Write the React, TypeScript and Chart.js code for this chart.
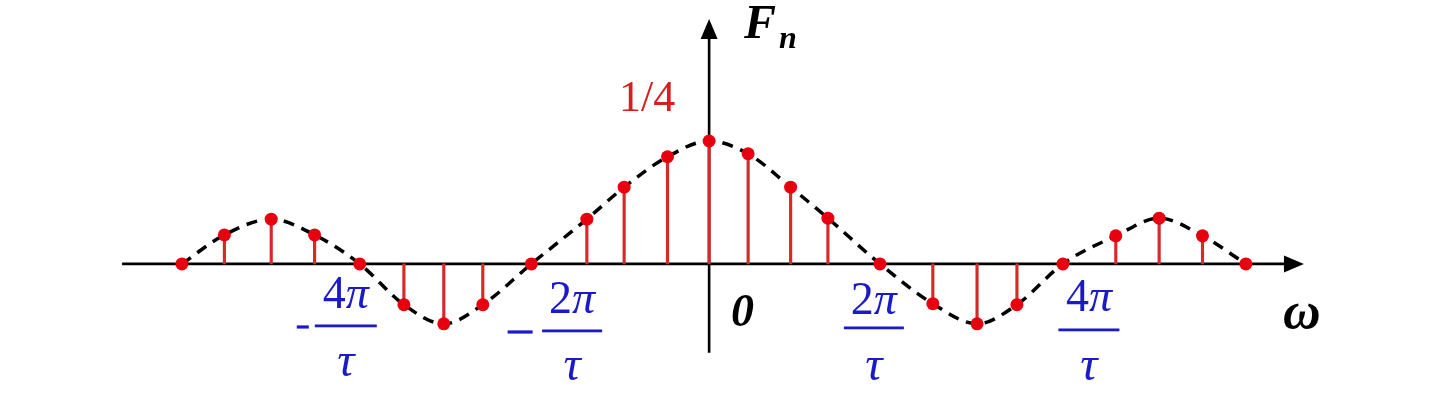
import React, { useEffect, useRef } from "react";
import { Chart, registerables } from "chart.js";

Chart.register(...registerables);

// ω in units of π/τ
const OMEGA = [
  -6.08, -5.59, -5.05, -4.55, -4.03, -3.52, -3.06, -2.61, -2.05, -1.41, -0.98, -0.48, 0,
  0.45, 0.94, 1.37, 1.97, 2.58, 3.09, 3.55, 4.08, 4.69, 5.19, 5.69, 6.19,
];
// F_n values (peak = 1/4)
const FN = [
  0, 0.059, 0.091, 0.059, 0, -0.083, -0.122, -0.083, 0, 0.091, 0.156, 0.218, 0.25,
  0.224, 0.156, 0.093, 0, -0.081, -0.122, -0.083, 0, 0.057, 0.093, 0.057, 0,
];
// tick fraction labels
const TICK_NUMS = ["4π", "2π", "2π", "4π"];
const TICK_NEG = [true, true, false, false];
const PEAK_LABEL = "1/4";

// label anchors (data units of ω) and offsets below the axis in px
const TICK_ANCHORS = [-4.19, -1.58, 1.9, 4.38];
const NUM_DY = [44, 49, 50, 47];
const BAR_DY = [62, 67, 64, 66];
const TAU_DY = [112, 116, 116, 116];
const BAR_W = [62, 60, 60, 61];
const MINUS_DX = [-43, -52];
const MINUS_W = [12, 25];

const X_AXIS = [-6.77, 6.86];
const Y_AXIS = [-0.181, 0.498];

const RED_DOT = "#e8000e";
const RED_STEM = "#d42a2a";
const BLUE = "#1a1ac8";
const SERIF = '"Liberation Serif", "DejaVu Serif", serif';

const drawPlugin = {
  id: "sketch",
  beforeDatasetsDraw(chart: any) {
    const { ctx, scales } = chart;
    const xs = scales.x;
    const ys = scales.y;
    const y0 = ys.getPixelForValue(0);
    const x0 = xs.getPixelForValue(0);
    ctx.save();
    ctx.strokeStyle = "#000";
    ctx.fillStyle = "#000";
    ctx.lineWidth = 2.6;
    // x axis
    const xl = xs.getPixelForValue(X_AXIS[0]);
    const xr = xs.getPixelForValue(X_AXIS[1]);
    ctx.beginPath();
    ctx.moveTo(xl, y0);
    ctx.lineTo(xr - 16, y0);
    ctx.stroke();
    ctx.beginPath();
    ctx.moveTo(xr, y0);
    ctx.lineTo(xr - 20, y0 - 8.5);
    ctx.lineTo(xr - 20, y0 + 8.5);
    ctx.closePath();
    ctx.fill();
    // y axis
    const yb = ys.getPixelForValue(Y_AXIS[0]);
    const yt = ys.getPixelForValue(Y_AXIS[1]);
    ctx.beginPath();
    ctx.moveTo(x0, yb);
    ctx.lineTo(x0, yt + 16);
    ctx.stroke();
    ctx.beginPath();
    ctx.moveTo(x0, yt);
    ctx.lineTo(x0 - 8.5, yt + 20);
    ctx.lineTo(x0 + 8.5, yt + 20);
    ctx.closePath();
    ctx.fill();
    ctx.restore();
  },
  afterDatasetsDraw(chart: any) {
    const { ctx, scales } = chart;
    const xs = scales.x;
    const ys = scales.y;
    const y0 = ys.getPixelForValue(0);
    const x0 = xs.getPixelForValue(0);
    ctx.save();
    ctx.textBaseline = "alphabetic";
    // F_n
    ctx.fillStyle = "#000";
    ctx.textAlign = "left";
    ctx.font = `italic bold 48px ${SERIF}`;
    ctx.fillText("F", x0 + 35, 38);
    ctx.font = `italic bold 32px ${SERIF}`;
    ctx.fillText("n", x0 + 70, 48);
    // 0
    ctx.font = `italic bold 46px ${SERIF}`;
    ctx.fillText("0", x0 + 22, y0 + 62);
    // ω
    ctx.font = `italic bold 52px ${SERIF}`;
    ctx.fillText("ω", 1283, y0 + 64);
    // 1/4
    ctx.fillStyle = "#d42020";
    ctx.textAlign = "center";
    ctx.font = `44px ${SERIF}`;
    ctx.fillText(PEAK_LABEL, x0 - 62, 111);
    // fractions
    ctx.fillStyle = BLUE;
    TICK_NUMS.forEach((num, i) => {
      const cx = xs.getPixelForValue(TICK_ANCHORS[i]);
      // numerator: digit upright, π italic
      const digit = num.slice(0, 1);
      const pi = num.slice(1);
      ctx.font = `46px ${SERIF}`;
      const dw = ctx.measureText(digit).width;
      ctx.font = `italic 46px ${SERIF}`;
      const pw = ctx.measureText(pi).width;
      const left = cx - (dw + pw) / 2;
      ctx.textAlign = "left";
      ctx.font = `46px ${SERIF}`;
      ctx.fillText(digit, left, y0 + NUM_DY[i]);
      ctx.font = `italic 46px ${SERIF}`;
      ctx.fillText(pi, left + dw, y0 + NUM_DY[i]);
      // bar
      ctx.fillRect(cx - BAR_W[i] / 2, y0 + BAR_DY[i] - 1.4, BAR_W[i], 2.8);
      // tau
      ctx.textAlign = "center";
      ctx.font = `italic 48px ${SERIF}`;
      ctx.fillText("τ", cx, y0 + TAU_DY[i]);
      // minus
      if (TICK_NEG[i]) {
        const mx = cx + MINUS_DX[i];
        const w = MINUS_W[i];
        ctx.fillRect(mx - w / 2, y0 + BAR_DY[i] - 0.5, w, 3.2);
      }
    });
    ctx.restore();
  },
};

export default function App() {
  const ref = useRef<HTMLCanvasElement>(null);
  useEffect(() => {
    if (!ref.current) return;
    const pts = OMEGA.map((x, i) => ({ x, y: FN[i] }));
    const chart = new Chart(ref.current, {
      type: "bar",
      data: {
        datasets: [
          {
            type: "line",
            data: pts,
            showLine: false,
            pointRadius: 6.5,
            pointBackgroundColor: RED_DOT,
            pointBorderWidth: 0,
            order: 0,
          } as any,
          {
            type: "line",
            data: pts,
            borderColor: "#000",
            borderWidth: 3.5,
            borderDash: [11, 8],
            cubicInterpolationMode: "monotone",
            pointRadius: 0,
            fill: false,
            order: 1,
          } as any,
          {
            type: "bar",
            data: pts,
            backgroundColor: RED_STEM,
            barThickness: 2.5,
            order: 2,
          } as any,
        ],
      },
      options: {
        animation: false,
        responsive: false,
        layout: { padding: 0 },
        plugins: { legend: { display: false }, tooltip: { enabled: false } },
        scales: {
          x: { type: "linear", min: -8.103, max: 8.354, display: false, offset: false },
          y: { type: "linear", min: -0.2657, max: 0.5236, display: false },
        },
      },
      plugins: [drawPlugin],
    });
    return () => chart.destroy();
  }, []);
  return (
    <div style={{ position: "absolute", left: 0, top: 0, width: 1440, height: 401, background: "#fff" }}>
      <canvas ref={ref} width={1440} height={401} />
    </div>
  );
}
